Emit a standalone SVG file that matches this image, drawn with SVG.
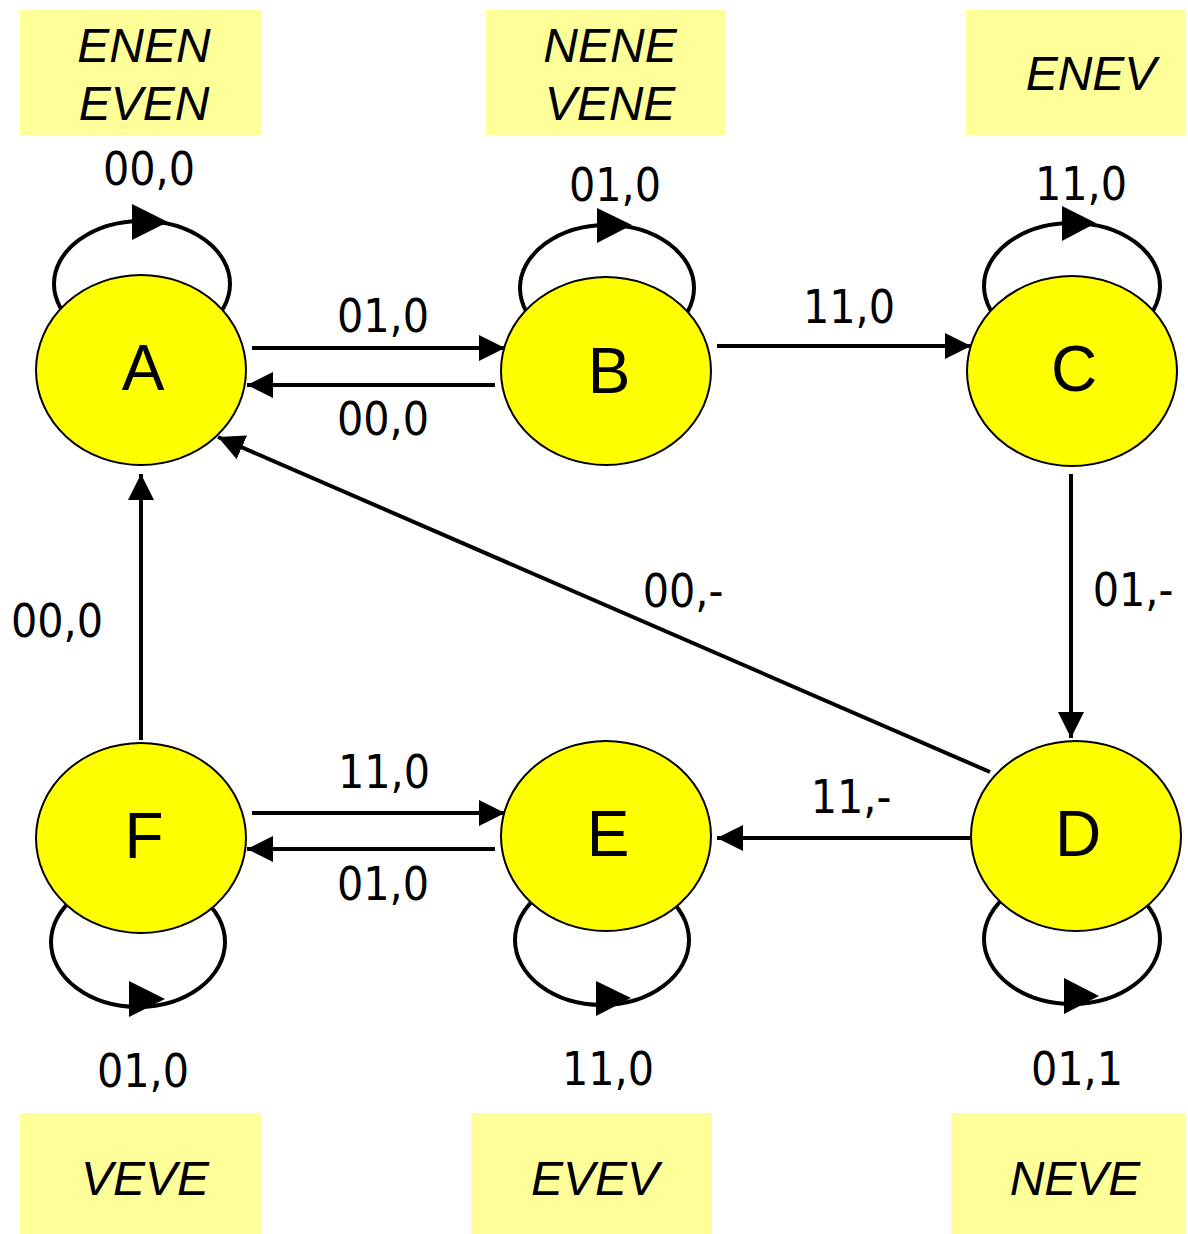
<svg xmlns="http://www.w3.org/2000/svg" width="1188" height="1234" viewBox="0 0 1188 1234">
<style>
.box{fill:#FFFF99;stroke:none}
.blbl{font-family:"Liberation Sans",Arial,sans-serif;font-style:italic;font-size:48px;fill:#000;text-anchor:middle}
.node{fill:#FFFF00;stroke:#000;stroke-width:2}
.ntxt{font-family:"Liberation Sans",Arial,sans-serif;font-size:64px;fill:#000;text-anchor:middle}
.edge{stroke:#000;stroke-width:4;fill:none}
.loop{stroke:#000;stroke-width:4;fill:none}
.elbl{font-family:"DejaVu Sans Condensed","DejaVu Sans",sans-serif;font-stretch:condensed;font-size:46px;fill:#000;text-anchor:middle}
</style>
<defs>
<marker id="ah" markerUnits="userSpaceOnUse" markerWidth="28" markerHeight="28" refX="26" refY="13" orient="auto" viewBox="0 0 28 28">
<path d="M0,0 L26,13 L0,26 Z" fill="#000"/>
</marker>
</defs>

<g id="labels">
<rect class="box" x="20" y="10" width="241" height="125"/>
<text class="blbl" x="144" y="62">ENEN</text>
<text class="blbl" x="144" y="120">EVEN</text>
<rect class="box" x="486" y="10" width="239" height="125"/>
<text class="blbl" x="610" y="62">NENE</text>
<text class="blbl" x="610" y="120">VENE</text>
<rect class="box" x="966" y="10" width="220" height="125"/>
<text class="blbl" x="1091" y="90">ENEV</text>
<rect class="box" x="20" y="1113" width="241" height="121"/>
<text class="blbl" x="145" y="1195">VEVE</text>
<rect class="box" x="471" y="1113" width="241" height="121"/>
<text class="blbl" x="595" y="1195">EVEV</text>
<rect class="box" x="951" y="1113" width="235" height="121"/>
<text class="blbl" x="1075" y="1195">NEVE</text>
</g>

<g id="connectors">
<!-- self loops -->
<ellipse class="loop" cx="142" cy="284" rx="88" ry="63"/>
<polygon points="132,204 168,222 132,240"/>
<ellipse class="loop" cx="607" cy="288" rx="87" ry="63"/>
<polygon points="597,208 632,225 597,243"/>
<ellipse class="loop" cx="1072" cy="286" rx="88" ry="63"/>
<polygon points="1062,206 1096,223 1062,241"/>
<ellipse class="loop" cx="138" cy="942" rx="87" ry="65"/>
<polygon points="129,981 165,999 129,1017"/>
<ellipse class="loop" cx="602" cy="940" rx="87" ry="65"/>
<polygon points="596,981 631,998 596,1016"/>
<ellipse class="loop" cx="1072" cy="939" rx="88" ry="65"/>
<polygon points="1064,978 1099,996 1064,1014"/>
<!-- straight edges -->
<line class="edge" x1="252" y1="348" x2="505" y2="348" marker-end="url(#ah)"/>
<line class="edge" x1="495" y1="385" x2="247" y2="385" marker-end="url(#ah)"/>
<line class="edge" x1="717" y1="346" x2="971" y2="346" marker-end="url(#ah)"/>
<line class="edge" x1="1071" y1="474" x2="1071" y2="738" marker-end="url(#ah)"/>
<line class="edge" x1="970" y1="838" x2="717" y2="838" marker-end="url(#ah)"/>
<line class="edge" x1="990" y1="772" x2="218" y2="437" marker-end="url(#ah)"/>
<line class="edge" x1="141" y1="740" x2="141" y2="474" marker-end="url(#ah)"/>
<line class="edge" x1="252" y1="813" x2="505" y2="813" marker-end="url(#ah)"/>
<line class="edge" x1="495" y1="849" x2="247" y2="849" marker-end="url(#ah)"/>
<!-- edge labels -->
<text class="elbl" x="149" y="185">00,0</text>
<text class="elbl" x="615" y="201">01,0</text>
<text class="elbl" x="1081" y="200">11,0</text>
<text class="elbl" x="383" y="332">01,0</text>
<text class="elbl" x="383" y="435">00,0</text>
<text class="elbl" x="849" y="323">11,0</text>
<text class="elbl" x="1133" y="606">01,-</text>
<text class="elbl" x="683" y="607">00,-</text>
<text class="elbl" x="57" y="637">00,0</text>
<text class="elbl" x="384" y="788">11,0</text>
<text class="elbl" x="383" y="900">01,0</text>
<text class="elbl" x="851" y="813">11,-</text>
<text class="elbl" x="143" y="1087">01,0</text>
<text class="elbl" x="608" y="1085">11,0</text>
<text class="elbl" x="1077" y="1085">01,1</text>
</g>

<g id="node-A"><ellipse class="node" cx="141" cy="370" rx="105" ry="95"/><text class="ntxt" x="143" y="390">A</text></g>
<g id="node-B"><ellipse class="node" cx="606" cy="371" rx="105" ry="94"/><text class="ntxt" x="609" y="393">B</text></g>
<g id="node-C"><ellipse class="node" cx="1072" cy="371" rx="105" ry="95"/><text class="ntxt" x="1074" y="391">C</text></g>
<g id="node-D"><ellipse class="node" cx="1076" cy="836" rx="105" ry="95"/><text class="ntxt" x="1078" y="856">D</text></g>
<g id="node-E"><ellipse class="node" cx="606" cy="836" rx="105" ry="95"/><text class="ntxt" x="608" y="856">E</text></g>
<g id="node-F"><ellipse class="node" cx="141" cy="838" rx="105" ry="95"/><text class="ntxt" x="144" y="858">F</text></g>
</svg>
